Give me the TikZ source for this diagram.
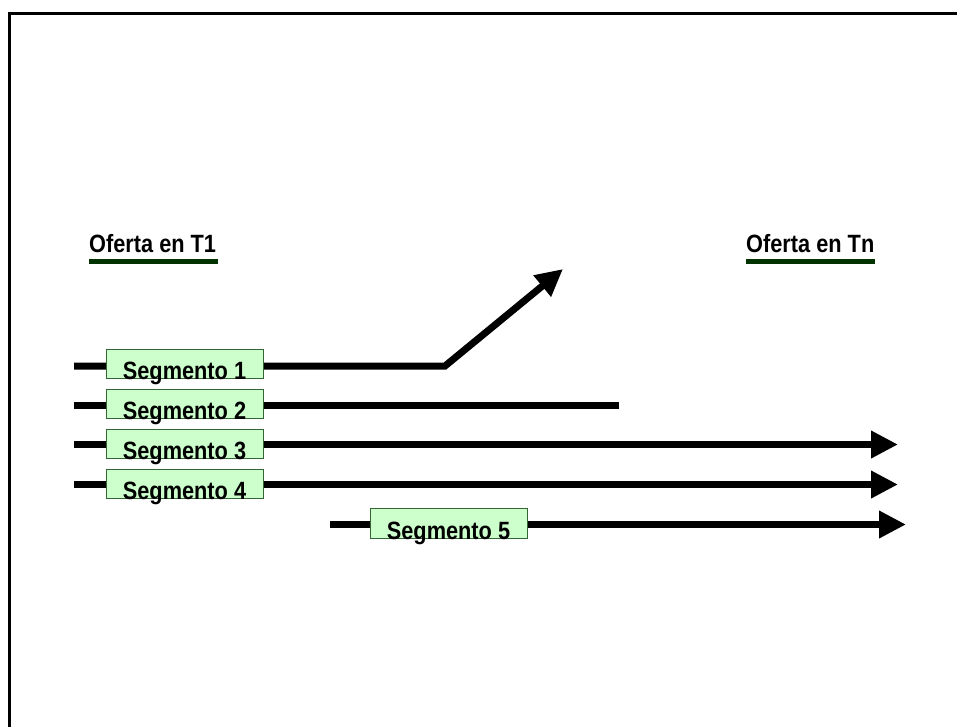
\documentclass[tikz,border=0pt]{standalone}
\usepackage{fontspec}
\setmainfont{Liberation Sans}[FakeStretch=0.87]
\usetikzlibrary{arrows.meta}
\definecolor{segfill}{HTML}{CCFFCC}
\definecolor{segedge}{HTML}{336633}
\definecolor{headline}{HTML}{003300}
\tikzset{
  track/.style={line width=7pt, line cap=butt},
  trackarrow/.style={track, -{Triangle[length=27pt,width=26pt]}},
  segbox/.style={draw=segedge, line width=1pt, fill=segfill,
    minimum width=157pt, minimum height=29pt, inner sep=0pt},
  segtext/.style={font=\bfseries\fontsize{25pt}{25pt}\selectfont, inner sep=0pt, anchor=base},
  heading/.style={font=\bfseries\fontsize{25pt}{25pt}\selectfont, inner sep=0pt, anchor=base west},
  rule/.style={draw=headline, line width=5pt}
}
\begin{document}
\begin{tikzpicture}[x=1pt,y=-1pt]
  \useasboundingbox (0,0) rectangle (957,726);
  \clip (0,0) rectangle (957,726);

  % outer frame (runs off the page on the right and at the bottom)
  \draw[line width=3pt] (9.5,740) -- (9.5,13.3) -- (970,13.3);

  % headings with their underlines
  \node[heading] (h1) at (89,252) {Oferta en T1};
  \coordinate (h1a) at (89,261.5);
  \coordinate (h1b) at (218,261.5);
  \draw[rule] (h1a) -- (h1b);
  \node[heading] (hn) at (746,252) {Oferta en Tn};
  \coordinate (hna) at (746,261.5);
  \coordinate (hnb) at (875,261.5);
  \draw[rule] (hna) -- (hnb);

  % track end points
  \coordinate (s1) at (74,366);
  \coordinate (k1) at (445,366);
  \coordinate (e1) at (563,269);
  \coordinate (s2) at (74,405);
  \coordinate (e2) at (619,405);
  \coordinate (s3) at (74,444.5);
  \coordinate (e3) at (898,444.5);
  \coordinate (s4) at (74,484.5);
  \coordinate (e4) at (898,484.5);
  \coordinate (s5) at (330,524.5);
  \coordinate (e5) at (906,524.5);

  % tracks
  \draw[trackarrow, line join=miter] (s1) -- (k1) -- (e1);
  \draw[track] (s2) -- (e2);
  \draw[trackarrow] (s3) -- (e3);
  \draw[trackarrow] (s4) -- (e4);
  \draw[trackarrow] (s5) -- (e5);

  % segment boxes
  \node[segbox] (b1) at (184.5,363.5) {};
  \node[segbox] (b2) at (184.5,403.5) {};
  \node[segbox] (b3) at (184.5,443.5) {};
  \node[segbox] (b4) at (184.5,483.5) {};
  \node[segbox, minimum height=30pt] (b5) at (448.5,523) {};

  \node[segtext] (t1) at ([yshift=-1pt]b1.south) {Segmento 1};
  \node[segtext] (t2) at ([yshift=-1pt]b2.south) {Segmento 2};
  \node[segtext] (t3) at ([yshift=-1pt]b3.south) {Segmento 3};
  \node[segtext] (t4) at ([yshift=-1pt]b4.south) {Segmento 4};
  \node[segtext] (t5) at ([yshift=-1pt]b5.south) {Segmento 5};
\end{tikzpicture}
\end{document}
